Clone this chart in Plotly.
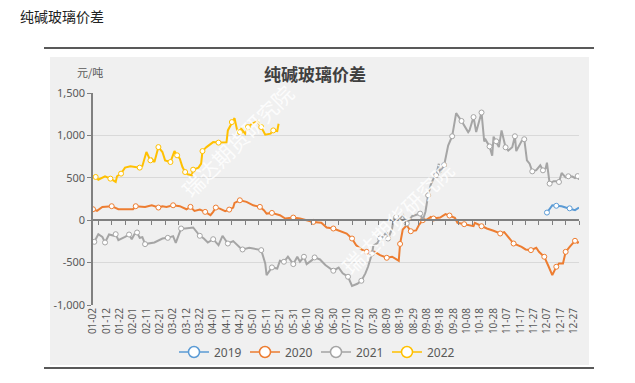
import plotly.graph_objects as go
from datetime import date, timedelta

# ---------------- data ----------------
# daily categories (calendar with 02-29), 01-02 .. 12-31
start = date(2020, 1, 2)
CATEGORIES = [(start + timedelta(days=i)).strftime("%m-%d") for i in range(365)]

TICK_LABELS = ["01-02", "01-12", "01-22", "02-01", "02-11", "02-21", "03-02", "03-12",
               "03-22", "04-01", "04-11", "04-21", "05-01", "05-11", "05-21", "05-31",
               "06-10", "06-20", "06-30", "07-10", "07-20", "07-30", "08-09", "08-19",
               "08-29", "09-08", "09-18", "09-28", "10-08", "10-18", "10-28", "11-07",
               "11-17", "11-27", "12-07", "12-17", "12-27"]

Y_TICKS = [-1000, -500, 0, 500, 1000, 1500]
Y_TICK_TEXT = ["-1,000", "-500", "0", "500", "1,000", "1,500"]

dates_2019 = ["12-07", "12-09", "12-11", "12-14", "12-18", "12-21", "12-24", "12-28", "12-31"]
vals_2019 = [90, 130, 176, 170, 165, 150, 140, 118, 149]

dates_2020 = ["01-02", "01-05", "01-09", "01-16", "01-21", "02-01", "02-03", "02-10", "02-15",
              "02-20", "02-23", "02-26", "03-02", "03-07", "03-12", "03-15", "03-18", "03-22",
              "03-26", "03-30", "04-01", "04-03", "04-06", "04-10", "04-13", "04-16", "04-17",
              "04-21", "04-26", "05-01", "05-06", "05-09", "05-11", "05-15", "05-21", "05-25",
              "05-31", "06-05", "06-10", "06-15", "06-21", "06-25", "06-30", "07-05", "07-10",
              "07-14", "07-17", "07-21", "07-25", "07-31", "08-04", "08-09", "08-13", "08-18",
              "08-19", "08-21", "08-24", "08-27", "08-31", "09-02", "09-05", "09-08", "09-11",
              "09-13", "09-18", "09-22", "09-25", "09-29", "10-01", "10-06", "10-13", "10-14",
              "10-19", "10-23", "10-28", "11-02", "11-05", "11-08", "11-12", "11-18", "11-21",
              "11-25", "11-29", "12-01", "12-05", "12-08", "12-11", "12-14", "12-16", "12-19",
              "12-21", "12-24", "12-26", "12-28", "12-30", "12-31"]
vals_2020 = [129, 110, 157, 165, 129, 129, 165, 157, 176,
             149, 165, 157, 176, 165, 129, 157, 110, 125,
             98, 59, 98, 149, 137, 106, 125, 149, 204,
             235, 216, 176, 157, 118, 78, 86, 59, 20,
             31, 20, 0, -20, -31, -86, -98, -130, -157,
             -216, -294, -345, -373, -373, -412, -443, -431, -478,
             -280, -110, -60, -130, -120, -59, 0, 8, 39,
             20, 31, 71, 55, 27, -31, -47, -71, -31,
             -71, -98, -125, -157, -140, -196, -275, -314, -345,
             -353, -325, -373, -431, -537, -647, -549, -510, -510,
             -373, -314, -282, -243, -267, -255]

dates_2021 = ["01-03", "01-06", "01-09", "01-11", "01-14", "01-18", "01-19", "01-21", "01-26",
              "01-29", "01-31", "02-02", "02-04", "02-06", "02-08", "02-10", "02-17", "02-23",
              "02-27", "03-02", "03-04", "03-08", "03-11", "03-17", "03-22", "03-25", "03-28",
              "04-01", "04-05", "04-08", "04-12", "04-16", "04-21", "04-23", "04-28", "05-05",
              "05-07", "05-10", "05-11", "05-15", "05-19", "05-21", "05-24", "05-27", "05-29",
              "05-31", "06-03", "06-05", "06-08", "06-10", "06-14", "06-16", "06-20", "06-24",
              "06-30", "07-04", "07-07", "07-11", "07-14", "07-18", "07-21", "07-24", "07-26",
              "07-29", "07-30", "08-02", "08-04", "08-06", "08-09", "08-10", "08-13", "08-14",
              "08-16", "08-19", "08-21", "08-24", "08-28", "08-31", "09-03", "09-05", "09-07",
              "09-09", "09-11", "09-13", "09-15", "09-17", "09-18", "09-21", "09-23", "09-24",
              "09-27", "09-28", "09-30", "10-04", "10-09", "10-10", "10-13", "10-15", "10-16",
              "10-19", "10-21", "10-22", "10-25", "10-27", "10-28", "10-30", "11-01", "11-03",
              "11-06", "11-08", "11-11", "11-13", "11-14", "11-18", "11-20", "11-22", "11-24",
              "11-26", "11-29", "12-02", "12-04", "12-06", "12-07", "12-09", "12-12", "12-14",
              "12-16", "12-18", "12-21", "12-23", "12-26", "12-28", "12-30", "12-31"]
vals_2021 = [-255, -165, -196, -263, -169, -184, -165, -235, -196,
             -169, -224, -165, -145, -208, -200, -282, -263, -216,
             -208, -188, -267, -98, -98, -86, -184, -216, -263,
             -224, -294, -184, -275, -247, -322, -345, -325, -345,
             -353, -510, -647, -557, -570, -478, -490, -431, -480,
             -518, -431, -490, -431, -518, -471, -439, -463, -529,
             -596, -560, -627, -667, -775, -750, -714, -627, -549,
             -392, -300, -270, -216, -200, -137, -216, -100, 8,
             39, 20, 71, -39, 47, 59, 78, 0, 100,
             294, 420, 490, 530, 665, 560, 650, 780, 880,
             990, 1100, 1263, 1170, 1039, 1060, 1216, 1040, 1100,
             1270, 930, 950, 870, 760, 985, 930, 862, 1059,
             860, 820, 860, 990, 815, 933, 955, 706, 667,
             576, 590, 647, 588, 610, 678, 431, 460, 460,
             451, 557, 505, 518, 515, 498, 520, 478]

dates_2022 = ["01-04", "01-06", "01-11", "01-15", "01-19", "01-20", "01-23", "01-26", "01-30",
              "02-06", "02-08", "02-11", "02-14", "02-15", "02-17", "02-20", "02-23", "02-25",
              "02-29", "03-01", "03-03", "03-05", "03-07", "03-09", "03-11", "03-13", "03-16",
              "03-17", "03-21", "03-23", "03-24", "03-27", "04-01", "04-05", "04-11", "04-12",
              "04-15", "04-17", "04-19", "04-21", "04-22", "04-25", "04-27", "04-30", "05-04",
              "05-07", "05-10", "05-14", "05-16", "05-19", "05-20"]
vals_2022 = [510, 478, 518, 490, 451, 518, 549, 620, 635,
             620, 640, 804, 706, 726, 686, 862, 804, 706,
             686, 737, 815, 765, 726, 627, 568, 541, 529,
             596, 620, 667, 815, 862, 921, 915, 918, 1059,
             1157, 1204, 1059, 1039, 1079, 1020, 1098, 1137, 1168,
             1098, 1008, 1020, 1059, 1051, 1137]

SERIES = [
    ("2019", dates_2019, vals_2019, "#5B9BD5"),
    ("2020", dates_2020, vals_2020, "#ED7D31"),
    ("2021", dates_2021, vals_2021, "#A5A5A5"),
    ("2022", dates_2022, vals_2022, "#FFC000"),
]

# ---------------- geometry helpers (pixel -> paper) ----------------
W, H = 635, 383
PL, PR, PT, PB = 93, 579, 93, 305


def fx(px):
    return (px - PL) / (PR - PL)


def fy(py):
    return (PB - py) / (PB - PT)


FONT = "Noto Sans, Noto Sans CJK SC, sans-serif"
CJK = "Noto Sans CJK SC, sans-serif"

fig = go.Figure()

for name, d, v, c in SERIES:
    fig.add_trace(go.Scatter(
        x=d, y=v, mode="lines", name=name, showlegend=False,
        line=dict(color=c, width=2), connectgaps=True, hoverinfo="skip"))
    # sampled symbols like the original
    step = 3
    fig.add_trace(go.Scatter(
        x=d[::step], y=v[::step], mode="markers", showlegend=False, hoverinfo="skip",
        marker=dict(symbol="circle", size=5, color="white", line=dict(color=c, width=1))))

# legend entries (attached to overlay axis that draws the zero-line ticks)
for name, d, v, c in SERIES:
    fig.add_trace(go.Scatter(
        x=[CATEGORIES[0]], y=[None], mode="lines+markers", name=name,
        xaxis="x2", yaxis="y",
        line=dict(color=c, width=1.5),
        marker=dict(symbol="circle", size=11, color="white", line=dict(color=c, width=1.5))))

shapes = [
    # gray chart panel
    dict(type="rect", xref="paper", yref="paper", x0=fx(50), x1=fx(589), y0=fy(365), y1=fy(57),
         fillcolor="#f0f0f0", line=dict(width=0), layer="below"),
    # top and bottom black rules
    dict(type="line", xref="paper", yref="paper", x0=fx(44), x1=fx(594), y0=fy(48), y1=fy(48),
         line=dict(color="#222222", width=1.5)),
    dict(type="line", xref="paper", yref="paper", x0=fx(44), x1=fx(594), y0=fy(368), y1=fy(368),
         line=dict(color="#222222", width=1.5)),
]

annotations = [
    dict(text="纯碱玻璃价差", xref="paper", yref="paper", x=fx(18), y=fy(16),
         xanchor="left", yanchor="middle", showarrow=False,
         font=dict(family=CJK, size=14, color="#222222")),
    dict(text="<b>纯碱玻璃价差</b>", xref="paper", yref="paper", x=fx(315), y=fy(73),
         xanchor="center", yanchor="middle", showarrow=False,
         font=dict(family=CJK, size=17, color="#404040")),
    dict(text="元/吨", xref="paper", yref="paper", x=fx(90), y=fy(72),
         xanchor="center", yanchor="middle", showarrow=False,
         font=dict(family=CJK, size=11, color="#595959")),
]
for cx, cy in [(237, 141), (397, 218)]:
    annotations.append(dict(text="瑞达期货研究院", xref="paper", yref="paper", x=fx(cx), y=fy(cy),
                            xanchor="center", yanchor="middle", showarrow=False, textangle=-45,
                            font=dict(family=CJK, size=21, color="rgba(255,255,255,0.85)")))

fig.update_layout(
    width=W, height=H,
    margin=dict(l=PL, r=W - PR, t=PT, b=H - PB, pad=0),
    paper_bgcolor="white",
    plot_bgcolor="rgba(0,0,0,0)",
    font=dict(family=FONT, color="#595959"),
    shapes=shapes,
    annotations=annotations,
    showlegend=True,
    legend=dict(orientation="h", x=fx(316), xanchor="center", y=fy(352), yanchor="middle",
                font=dict(family=FONT, size=12, color="#595959"), bgcolor="rgba(0,0,0,0)",
                entrywidth=26, entrywidthmode="pixels",
                itemclick=False, itemdoubleclick=False, tracegroupgap=0),
    xaxis=dict(type="category", categoryorder="array", categoryarray=CATEGORIES,
               range=[0, len(CATEGORIES) - 1],
               tickmode="array", tickvals=TICK_LABELS, ticktext=TICK_LABELS,
               tickangle=-90, tickfont=dict(size=10, color="#595959"),
               showgrid=False, zeroline=False, showline=False, ticks=""),
    xaxis2=dict(type="category", categoryorder="array", categoryarray=CATEGORIES,
                range=[0, len(CATEGORIES) - 1], overlaying="x", anchor="free", position=0.4,
                tickmode="array", tickvals=CATEGORIES[4::10], showticklabels=False,
                ticks="outside", ticklen=4, tickcolor="#808080", tickwidth=1,
                showline=True, linecolor="#808080", linewidth=1.5,
                showgrid=False, zeroline=False),
    yaxis=dict(range=[-1000, 1500], tickmode="array", tickvals=Y_TICKS, ticktext=Y_TICK_TEXT,
               tickfont=dict(size=11, color="#595959"),
               showgrid=True, gridcolor="#d9d9d9", gridwidth=1, zeroline=False,
               showline=True, linecolor="#808080", linewidth=1.5,
               ticks="outside", ticklen=4, tickcolor="#808080"),
)

fig.write_html("out.html", config={"displayModeBar": False},
               post_script="document.body.style.margin='0';document.body.style.overflow='hidden';")
